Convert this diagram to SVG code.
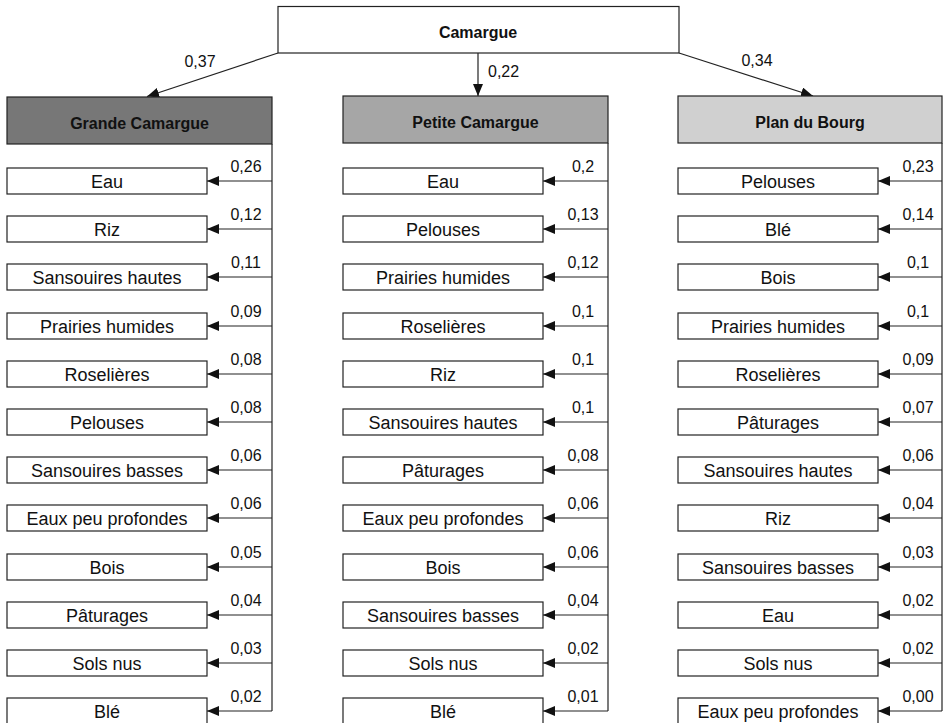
<svg xmlns="http://www.w3.org/2000/svg" width="943" height="723" viewBox="0 0 943 723">
<style>
text{font-family:"Liberation Sans",Arial,sans-serif;fill:#111}
.b{font-weight:bold;font-size:16px;text-anchor:middle}
.t{font-size:18px;text-anchor:middle}
.v{font-size:16px;text-anchor:middle}
.box{fill:#fff;stroke:#222;stroke-width:1.2}
.ln{stroke:#222;stroke-width:1.2;fill:none}
.ar{stroke:#222;stroke-width:1.2;fill:none;marker-end:url(#ah)}
</style>
<defs>
<marker id="ah" markerUnits="userSpaceOnUse" markerWidth="13" markerHeight="11" refX="12" refY="5" orient="auto" viewBox="0 0 13 11">
<path d="M0,0 L12,5 L0,10 Z" fill="#111"/>
</marker>
</defs>
<rect width="943" height="723" fill="#fff"/>
<g id="connectors">
<line class="ar" x1="278" y1="53" x2="147" y2="96.5"/>
<line class="ar" x1="478" y1="53" x2="478" y2="96"/>
<line class="ar" x1="679" y1="53" x2="813" y2="96"/>
<text class="v" x="200" y="67">0,37</text>
<text x="488" y="77" style="font-size:16px">0,22</text>
<text class="v" x="757" y="66">0,34</text>
<line class="ln" x1="272" y1="144" x2="272" y2="711"/>
<line class="ln" x1="608" y1="143" x2="608" y2="711"/>
<line class="ln" x1="942" y1="143" x2="942" y2="711"/>
<g id="arrows-grande">
<line class="ar" x1="272" y1="181" x2="207" y2="181"/><text class="v" x="246" y="172">0,26</text>
<line class="ar" x1="272" y1="229" x2="207" y2="229"/><text class="v" x="246" y="220">0,12</text>
<line class="ar" x1="272" y1="277" x2="207" y2="277"/><text class="v" x="246" y="268">0,11</text>
<line class="ar" x1="272" y1="326" x2="207" y2="326"/><text class="v" x="246" y="317">0,09</text>
<line class="ar" x1="272" y1="374" x2="207" y2="374"/><text class="v" x="246" y="365">0,08</text>
<line class="ar" x1="272" y1="422" x2="207" y2="422"/><text class="v" x="246" y="413">0,08</text>
<line class="ar" x1="272" y1="470" x2="207" y2="470"/><text class="v" x="246" y="461">0,06</text>
<line class="ar" x1="272" y1="518" x2="207" y2="518"/><text class="v" x="246" y="509">0,06</text>
<line class="ar" x1="272" y1="567" x2="207" y2="567"/><text class="v" x="246" y="558">0,05</text>
<line class="ar" x1="272" y1="615" x2="207" y2="615"/><text class="v" x="246" y="606">0,04</text>
<line class="ar" x1="272" y1="663" x2="207" y2="663"/><text class="v" x="246" y="654">0,03</text>
<line class="ar" x1="272" y1="711" x2="207" y2="711"/><text class="v" x="246" y="702">0,02</text>
</g>
<g id="arrows-petite">
<line class="ar" x1="608" y1="181" x2="543" y2="181"/><text class="v" x="583" y="172">0,2</text>
<line class="ar" x1="608" y1="229" x2="543" y2="229"/><text class="v" x="583" y="220">0,13</text>
<line class="ar" x1="608" y1="277" x2="543" y2="277"/><text class="v" x="583" y="268">0,12</text>
<line class="ar" x1="608" y1="326" x2="543" y2="326"/><text class="v" x="583" y="317">0,1</text>
<line class="ar" x1="608" y1="374" x2="543" y2="374"/><text class="v" x="583" y="365">0,1</text>
<line class="ar" x1="608" y1="422" x2="543" y2="422"/><text class="v" x="583" y="413">0,1</text>
<line class="ar" x1="608" y1="470" x2="543" y2="470"/><text class="v" x="583" y="461">0,08</text>
<line class="ar" x1="608" y1="518" x2="543" y2="518"/><text class="v" x="583" y="509">0,06</text>
<line class="ar" x1="608" y1="567" x2="543" y2="567"/><text class="v" x="583" y="558">0,06</text>
<line class="ar" x1="608" y1="615" x2="543" y2="615"/><text class="v" x="583" y="606">0,04</text>
<line class="ar" x1="608" y1="663" x2="543" y2="663"/><text class="v" x="583" y="654">0,02</text>
<line class="ar" x1="608" y1="711" x2="543" y2="711"/><text class="v" x="583" y="702">0,01</text>
</g>
<g id="arrows-plan">
<line class="ar" x1="942" y1="181" x2="878" y2="181"/><text class="v" x="918" y="172">0,23</text>
<line class="ar" x1="942" y1="229" x2="878" y2="229"/><text class="v" x="918" y="220">0,14</text>
<line class="ar" x1="942" y1="277" x2="878" y2="277"/><text class="v" x="918" y="268">0,1</text>
<line class="ar" x1="942" y1="326" x2="878" y2="326"/><text class="v" x="918" y="317">0,1</text>
<line class="ar" x1="942" y1="374" x2="878" y2="374"/><text class="v" x="918" y="365">0,09</text>
<line class="ar" x1="942" y1="422" x2="878" y2="422"/><text class="v" x="918" y="413">0,07</text>
<line class="ar" x1="942" y1="470" x2="878" y2="470"/><text class="v" x="918" y="461">0,06</text>
<line class="ar" x1="942" y1="518" x2="878" y2="518"/><text class="v" x="918" y="509">0,04</text>
<line class="ar" x1="942" y1="567" x2="878" y2="567"/><text class="v" x="918" y="558">0,03</text>
<line class="ar" x1="942" y1="615" x2="878" y2="615"/><text class="v" x="918" y="606">0,02</text>
<line class="ar" x1="942" y1="663" x2="878" y2="663"/><text class="v" x="918" y="654">0,02</text>
<line class="ar" x1="942" y1="711" x2="878" y2="711"/><text class="v" x="918" y="702">0,00</text>
</g>
</g>
<g id="camargue"><rect class="box" x="278" y="6.5" width="401" height="46.5"/><text class="b" x="478" y="37.5">Camargue</text></g>
<g id="grande-camargue"><rect x="7" y="97" width="265" height="47" style="fill:#777;stroke:#222;stroke-width:1.2"/><text class="b" x="139.5" y="129">Grande Camargue</text></g>
<g id="petite-camargue"><rect x="343" y="96" width="265" height="47" style="fill:#a6a6a6;stroke:#222;stroke-width:1.2"/><text class="b" x="475.5" y="128">Petite Camargue</text></g>
<g id="plan-du-bourg"><rect x="678" y="96" width="264" height="47" style="fill:#d0d0d0;stroke:#222;stroke-width:1.2"/><text class="b" x="810" y="128">Plan du Bourg</text></g>
<g id="g-eau"><rect class="box" x="7" y="168" width="200" height="26"/><text class="t" x="107" y="187.5">Eau</text></g>
<g id="g-riz"><rect class="box" x="7" y="216" width="200" height="26"/><text class="t" x="107" y="235.5">Riz</text></g>
<g id="g-sh"><rect class="box" x="7" y="264" width="200" height="26"/><text class="t" x="107" y="283.5">Sansouires hautes</text></g>
<g id="g-ph"><rect class="box" x="7" y="313" width="200" height="26"/><text class="t" x="107" y="332.5">Prairies humides</text></g>
<g id="g-ros"><rect class="box" x="7" y="361" width="200" height="26"/><text class="t" x="107" y="380.5">Roselières</text></g>
<g id="g-pel"><rect class="box" x="7" y="409" width="200" height="26"/><text class="t" x="107" y="428.5">Pelouses</text></g>
<g id="g-sb"><rect class="box" x="7" y="457" width="200" height="26"/><text class="t" x="107" y="476.5">Sansouires basses</text></g>
<g id="g-epp"><rect class="box" x="7" y="505" width="200" height="26"/><text class="t" x="107" y="524.5">Eaux peu profondes</text></g>
<g id="g-bois"><rect class="box" x="7" y="554" width="200" height="26"/><text class="t" x="107" y="573.5">Bois</text></g>
<g id="g-pat"><rect class="box" x="7" y="602" width="200" height="26"/><text class="t" x="107" y="621.5">Pâturages</text></g>
<g id="g-sn"><rect class="box" x="7" y="650" width="200" height="26"/><text class="t" x="107" y="669.5">Sols nus</text></g>
<g id="g-ble"><rect class="box" x="7" y="698" width="200" height="26"/><text class="t" x="107" y="717.5">Blé</text></g>
<g id="p-eau"><rect class="box" x="343" y="168" width="200" height="26"/><text class="t" x="443" y="187.5">Eau</text></g>
<g id="p-pel"><rect class="box" x="343" y="216" width="200" height="26"/><text class="t" x="443" y="235.5">Pelouses</text></g>
<g id="p-ph"><rect class="box" x="343" y="264" width="200" height="26"/><text class="t" x="443" y="283.5">Prairies humides</text></g>
<g id="p-ros"><rect class="box" x="343" y="313" width="200" height="26"/><text class="t" x="443" y="332.5">Roselières</text></g>
<g id="p-riz"><rect class="box" x="343" y="361" width="200" height="26"/><text class="t" x="443" y="380.5">Riz</text></g>
<g id="p-sh"><rect class="box" x="343" y="409" width="200" height="26"/><text class="t" x="443" y="428.5">Sansouires hautes</text></g>
<g id="p-pat"><rect class="box" x="343" y="457" width="200" height="26"/><text class="t" x="443" y="476.5">Pâturages</text></g>
<g id="p-epp"><rect class="box" x="343" y="505" width="200" height="26"/><text class="t" x="443" y="524.5">Eaux peu profondes</text></g>
<g id="p-bois"><rect class="box" x="343" y="554" width="200" height="26"/><text class="t" x="443" y="573.5">Bois</text></g>
<g id="p-sb"><rect class="box" x="343" y="602" width="200" height="26"/><text class="t" x="443" y="621.5">Sansouires basses</text></g>
<g id="p-sn"><rect class="box" x="343" y="650" width="200" height="26"/><text class="t" x="443" y="669.5">Sols nus</text></g>
<g id="p-ble"><rect class="box" x="343" y="698" width="200" height="26"/><text class="t" x="443" y="717.5">Blé</text></g>
<g id="b-pel"><rect class="box" x="678" y="168" width="200" height="26"/><text class="t" x="778" y="187.5">Pelouses</text></g>
<g id="b-ble"><rect class="box" x="678" y="216" width="200" height="26"/><text class="t" x="778" y="235.5">Blé</text></g>
<g id="b-bois"><rect class="box" x="678" y="264" width="200" height="26"/><text class="t" x="778" y="283.5">Bois</text></g>
<g id="b-ph"><rect class="box" x="678" y="313" width="200" height="26"/><text class="t" x="778" y="332.5">Prairies humides</text></g>
<g id="b-ros"><rect class="box" x="678" y="361" width="200" height="26"/><text class="t" x="778" y="380.5">Roselières</text></g>
<g id="b-pat"><rect class="box" x="678" y="409" width="200" height="26"/><text class="t" x="778" y="428.5">Pâturages</text></g>
<g id="b-sh"><rect class="box" x="678" y="457" width="200" height="26"/><text class="t" x="778" y="476.5">Sansouires hautes</text></g>
<g id="b-riz"><rect class="box" x="678" y="505" width="200" height="26"/><text class="t" x="778" y="524.5">Riz</text></g>
<g id="b-sb"><rect class="box" x="678" y="554" width="200" height="26"/><text class="t" x="778" y="573.5">Sansouires basses</text></g>
<g id="b-eau"><rect class="box" x="678" y="602" width="200" height="26"/><text class="t" x="778" y="621.5">Eau</text></g>
<g id="b-sn"><rect class="box" x="678" y="650" width="200" height="26"/><text class="t" x="778" y="669.5">Sols nus</text></g>
<g id="b-epp"><rect class="box" x="678" y="698" width="200" height="26"/><text class="t" x="778" y="717.5">Eaux peu profondes</text></g>
</svg>
